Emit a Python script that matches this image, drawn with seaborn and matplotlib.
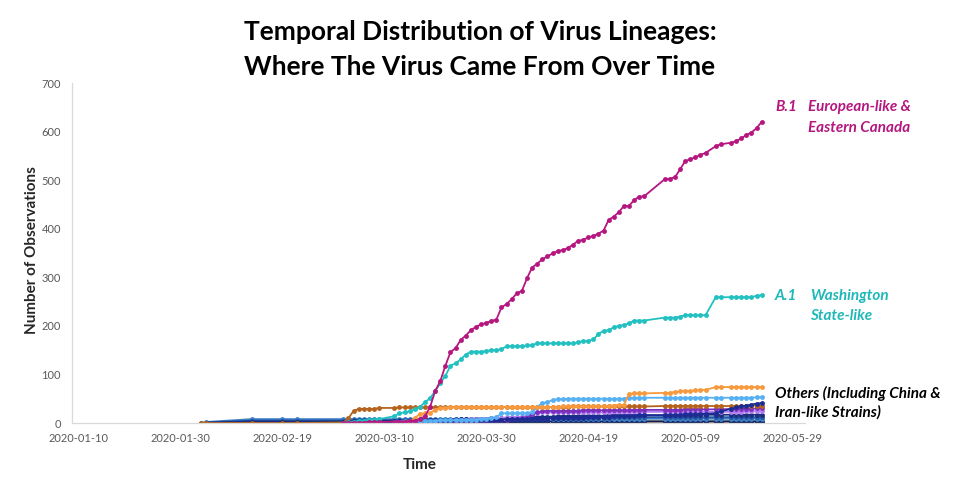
import matplotlib
matplotlib.use("Agg")
import matplotlib.pyplot as plt
import matplotlib.dates as mdates
import pandas as pd
import seaborn as sns

START = "2020-01-10"
X_TICK_LABELS = ["2020-01-10", "2020-01-30", "2020-02-19", "2020-03-10",
                 "2020-03-30", "2020-04-19", "2020-05-09", "2020-05-29"]
Y_TICKS = [0, 100, 200, 300, 400, 500, 600, 700]

# sampling days (offset in days from 2020-01-10)
DAYS = [24, 25, 34, 40, 43, 52, 53, 54, 55, 56, 57, 58, 59,
        62, 63, 64, 65, 66, 67, 68, 69, 70, 71,
        72, 73, 74, 75, 76, 77, 78, 79, 80, 81,
        82, 83, 84, 85, 86, 87, 88, 89, 90, 91,
        92, 93, 94, 95, 96, 97, 98, 99, 100, 101,
        102, 103, 104, 105, 106, 107, 108, 109, 110, 111,
        115, 116, 117, 118, 119, 120, 121, 122, 123,
        125, 126,
        128, 129, 130, 131, 132, 133, 134]

N = None
B1 = [N, N, N, N, N, 1, 1, 1, 1, 1, 2, 2, 2,
      3, 3, 3, 4, 5, 8, 14, 33, 66, 86,
      118, 146, 154, 171, 180, 191, 198, 203, 206, 210,
      213, 238, 245, 255, 267, 272, 298, 320, 328, 337,
      343, 349, 354, 356, 360, 367, 375, 377, 382, 385,
      390, 396, 418, 425, 434, 447, 447, 459, 466, 467,
      502, 503, 506, 522, 539, 543, 547, 552, 556,
      570, 574,
      577, 580, 586, 593, 598, 607, 620]
A1 = [N, N, N, N, N, 1, 2, 3, 4, 5, 6, 7, 8,
      14, 20, 22, 24, 28, 33, 43, 51, 66, 82,
      97, 118, 123, 131, 141, 147, 147, 147, 148, 150,
      150, 152, 158, 158, 158, 158, 160, 160, 164, 164,
      164, 164, 164, 164, 164, 164, 166, 169, 169, 172,
      183, 190, 191, 197, 200, 202, 205, 211, 211, 211,
      217, 217, 217, 219, 222, 222, 222, 222, 222,
      259, 259,
      259, 259, 259, 259, 259, 262, 263]
ORANGE = [N, N, N, N, N, N, N, N, N, N, N, N, N,
          N, N, 2, 3, 10, 19, 20, 21, 27, 30,
          31, 32, 32, 32, 32, 32, 32, 32, 33, 33,
          33, 33, 33, 33, 33, 33, 33, 33, 33, 33,
          33, 33, 33, 34, 34, 34, 34, 34, 34, 34,
          34, 34, 35, 36, 37, 37, 60, 61, 61, 61,
          62, 62, 64, 65, 66, 66, 67, 68, 68,
          74, 74,
          74, 74, 74, 74, 74, 74, 74]
LIGHTBLUE = [N, N, N, N, N, N, N, N, N, N, N, N, N,
             3, 3, 4, 4, 4, 5, 5, 5, 5, 6,
             6, 6, 6, 7, 7, 7, 7, 8, 9, 10,
             12, 20, 20, 20, 20, 20, 20, 22, 33, 41,
             43, 47, 49, 49, 50, 50, 50, 50, 50, 50,
             50, 50, 50, 50, 50, 50, 52, 52, 52, 52,
             52, 52, 52, 52, 52, 52, 52, 52, 52,
             52, 52,
             52, 52, 52, 52, 52, 53, 53]
NAVYRISE = [N, N, N, N, N, 1, 2, 2, 3, 3, 3, 3, 3,
            3, 4, 4, 4, 4, 4, 5, 5, 5, 5,
            5, 5, 6, 6, 6, 6, 6, 7, 7, 7,
            7, 7, 8, 8, 8, 8, 8, 9, 9, 9,
            9, 10, 10, 10, 10, 11, 11, 11, 12, 12,
            12, 13, 13, 14, 14, 15, 15, 15, 16, 16,
            16, 16, 17, 17, 18, 18, 18, 19, 19,
            20, 24,
            29, 32, 34, 36, 38, 40, 41]
BROWN = [0, 0, 0, 0, 0, 1, 10, 25, 29, 29, 29, 29, 31,
         31, 32, 32, 32, 32, 32, 32, 32, 32, 32,
         32, 32, 33, 33, 33, 33, 33, 33, 33, 33,
         33, 33, 33, 33, 33, 33, 33, 33, 33, 33,
         33, 33, 33, 33, 33, 34, 34, 34, 34, 34,
         34, 34, 34, 34, 34, 34, 34, 34, 34, 34,
         35, 35, 35, 35, 35, 35, 35, 35, 35,
         35, 35,
         35, 35, 35, 35, 36, 36, 36]
PURPLE = [N, N, N, N, N, N, N, N, N, N, N, N, N,
          N, N, N, N, N, 1, 1, 2, 2, 2,
          3, 3, 3, 4, 4, 4, 5, 5, 5, 6,
          6, 7, 7, 8, 9, 10, 12, 18, 22, 24,
          25, 25, 25, 25, 25, 25, 25, 26, 26, 26,
          26, 26, 26, 26, 26, 26, 26, 27, 27, 27,
          27, 27, 27, 27, 28, 28, 28, 28, 28,
          28, 28,
          29, 29, 29, 29, 29, 30, 30]
LAVENDER = [N, N, N, N, N, N, N, N, N, N, N, N, N,
            N, N, N, N, N, 2, 3, 4, 4, 5,
            5, 6, 6, 7, 7, 8, 8, 9, 9, 10,
            10, 11, 11, 12, 12, 13, 14, 18, 21, 22,
            22, 22, 22, 22, 22, 22, 22, 22, 22, 22,
            22, 22, 22, 23, 23, 23, 23, 23, 23, 23,
            23, 23, 23, 23, 23, 23, 23, 23, 23,
            23, 23,
            23, 23, 23, 24, 24, 24, 24]
NAVY2 = [N, 1, 3, 3, 3, 3, 3, 4, 4, 4, 4, 4, 4,
         4, 4, 5, 5, 5, 5, 6, 6, 6, 6,
         7, 7, 7, 8, 8, 8, 9, 9, 9, 10,
         10, 10, 11, 11, 11, 12, 12, 12, 13, 13,
         13, 13, 14, 14, 14, 14, 15, 15, 15, 15,
         15, 15, 16, 16, 16, 16, 16, 16, 16, 16,
         16, 16, 16, 17, 17, 17, 17, 17, 17,
         17, 17,
         17, 17, 17, 17, 17, 17, 17]
BLUE = [N, 1, 5, 5, 5, 5, 5, 6, 6, 6, 6, 6, 6,
        6, 6, 6, 6, 7, 7, 7, 7, 7, 7,
        7, 7, 8, 8, 8, 8, 8, 8, 9, 9,
        9, 9, 9, 9, 10, 10, 10, 10, 10, 10,
        10, 10, 10, 11, 11, 11, 11, 11, 11, 11,
        11, 11, 11, 12, 12, 12, 12, 12, 12, 12,
        12, 12, 12, 12, 12, 12, 12, 12, 12,
        12, 12,
        12, 12, 12, 12, 12, 12, 12]
STEEL = [N, 2, 8, 8, 8, 8, 8, 8, 8, 8, 8, 8, 8,
         8, 8, 8, 8, 8, 8, 8, 8, 8, 8,
         8, 8, 8, 8, 8, 8, 8, 8, 8, 8,
         8, 8, 8, 8, 9, 9, 9, 9, 9, 9,
         9, 9, 9, 9, 9, 9, 9, 9, 9, 9,
         9, 9, 9, 9, 9, 9, 9, 9, 9, 9,
         9, 9, 9, 9, 9, 9, 9, 9, 9,
         9, 9,
         9, 9, 9, 9, 9, 9, 9]
DARKNAVY = [0, 1, 2, 2, 2, 2, 2, 2, 2, 2, 2, 2, 2,
            2, 2, 2, 2, 2, 2, 2, 2, 2, 2,
            2, 2, 2, 2, 2, 2, 2, 2, 2, 2,
            2, 2, 2, 2, 2, 3, 3, 3, 3, 3,
            3, 3, 3, 3, 3, 3, 3, 3, 3, 3,
            3, 3, 3, 3, 3, 3, 3, 3, 3, 3,
            3, 3, 3, 3, 3, 3, 3, 3, 3,
            3, 3,
            3, 3, 3, 3, 3, 3, 3]
GREY = [N, N, N, N, N, N, N, N, N, N, N, N, N,
        1, 1, 1, 1, 1, 1, 2, 2, 2, 2,
        2, 2, 2, 2, 3, 3, 3, 3, 3, 3,
        3, 3, 3, 3, 3, 3, 4, 4, 4, 4,
        4, 4, 4, 4, 4, 4, 4, 4, 4, 4,
        4, 4, 5, 5, 5, 5, 5, 5, 5, 5,
        5, 5, 5, 5, 5, 5, 5, 5, 5,
        5, 5,
        5, 5, 5, 5, 5, 5, 5]
PEACH = [N, N, N, N, N, N, N, N, N, N, N, N, N,
         0, 0, 0, 0, 0, 0, 0, 0, 0, 0,
         0, 0, 0, 0, 0, 0, 0, 0, 0, 0,
         0, 0, 0, 0, 0, 0, 0, 0, 0, 0,
         1, 1, 1, 1, 1, 1, 1, 1, 1, 1,
         1, 1, 1, 1, 1, 1, 1, 1, 1, 1,
         1, 1, 1, 1, 1, 1, 1, 1, 1,
         1, 1,
         1, 1, 1, 1, 1, 1, 1]

SERIES = {"Peach": PEACH, "Grey": GREY, "DarkNavy": DARKNAVY, "Steel": STEEL,
          "Blue": BLUE, "Navy2": NAVY2, "Lavender": LAVENDER, "Purple": PURPLE,
          "Brown": BROWN, "NavyRise": NAVYRISE, "LightBlue": LIGHTBLUE,
          "Orange": ORANGE, "A.1": A1, "B.1": B1}
COLORS = {"Peach": "#f8c68c", "Grey": "#8c8c8c", "DarkNavy": "#0b1f5c",
          "Steel": "#3f7fc4", "Blue": "#2356a8", "Navy2": "#1a2f7d",
          "Lavender": "#b27cf0", "Purple": "#7a2fbf", "Brown": "#b5631c",
          "NavyRise": "#1c2c94", "LightBlue": "#56b0f2", "Orange": "#f7993c",
          "A.1": "#22c0c0", "B.1": "#b5167f"}

t0 = pd.Timestamp(START)
rows = []
for name, vals in SERIES.items():
    for d, v in zip(DAYS, vals):
        if v is not None:
            rows.append((name, t0 + pd.Timedelta(days=d), v))
df = pd.DataFrame(rows, columns=["lineage", "date", "count"])

sns.set_theme(style="white")
plt.rcParams["font.family"] = ["Lato", "DejaVu Sans"]

W, H = 960, 483
fig = plt.figure(figsize=(W / 100, H / 100), dpi=100)
L, R, T, B = 72, 805, 83, 423
ax = fig.add_axes([L / W, 1 - B / H, (R - L) / W, (B - T) / H])

sns.lineplot(data=df, x="date", y="count", hue="lineage",
             hue_order=list(SERIES), palette=COLORS, estimator=None,
             sort=False, marker="o", markersize=3.5, markeredgewidth=0,
             linewidth=1.3, legend=False, ax=ax)

x0 = mdates.date2num(t0)
ax.set_xlim(x0 - 1.2, x0 + 142.5)
ax.set_ylim(0, 700)
ax.set_yticks(Y_TICKS)
ax.set_xticks([mdates.date2num(pd.Timestamp(s)) for s in X_TICK_LABELS])
ax.set_xticklabels(X_TICK_LABELS)
for lab in ax.get_xticklabels() + ax.get_yticklabels():
    lab.set_family(["Lato", "DejaVu Sans"])
    lab.set_fontsize(8)
    lab.set_color("#595959")
ax.tick_params(axis="both", length=0)
ax.tick_params(axis="x", pad=7)
ax.tick_params(axis="y", pad=8)
ax.set_xlabel("")
ax.set_ylabel("")
for s in ["top", "right"]:
    ax.spines[s].set_visible(False)
for s in ["left", "bottom"]:
    ax.spines[s].set_color("#d9d9d9")
    ax.spines[s].set_linewidth(0.9)

def ftext(x, y, s, **kw):
    fig.text(x / W, 1 - y / H, s, **kw)

ftext(480, 32, "Temporal Distribution of Virus Lineages:", ha="center", va="center",
      fontsize=19, fontweight="bold", color="black")
ftext(480, 67, "Where The Virus Came From Over Time", ha="center", va="center",
      fontsize=19, fontweight="bold", color="black")
ftext(420, 465, "Time", ha="center", va="center", fontsize=11, fontweight="bold")
ftext(32, 250, "Number of Observations", ha="center", va="center", rotation=90,
      fontsize=11, fontweight="bold")

lab_kw = dict(fontsize=11, fontweight="bold", style="italic", va="center", ha="left")
ftext(775, 107, "B.1", color="#b5167f", **lab_kw)
ftext(808, 107, "European-like &", color="#b5167f", **lab_kw)
ftext(808, 128, "Eastern Canada", color="#b5167f", **lab_kw)
ftext(775, 296, "A.1", color="#1fb8b8", **lab_kw)
ftext(810, 296, "Washington", color="#1fb8b8", **lab_kw)
ftext(810, 316, "State-like", color="#1fb8b8", **lab_kw)
ftext(775, 393, "Others (Including China &", color="black", **lab_kw)
ftext(775, 412, "Iran-like Strains)", color="black", **lab_kw)

fig.savefig("out.png", dpi=100)
